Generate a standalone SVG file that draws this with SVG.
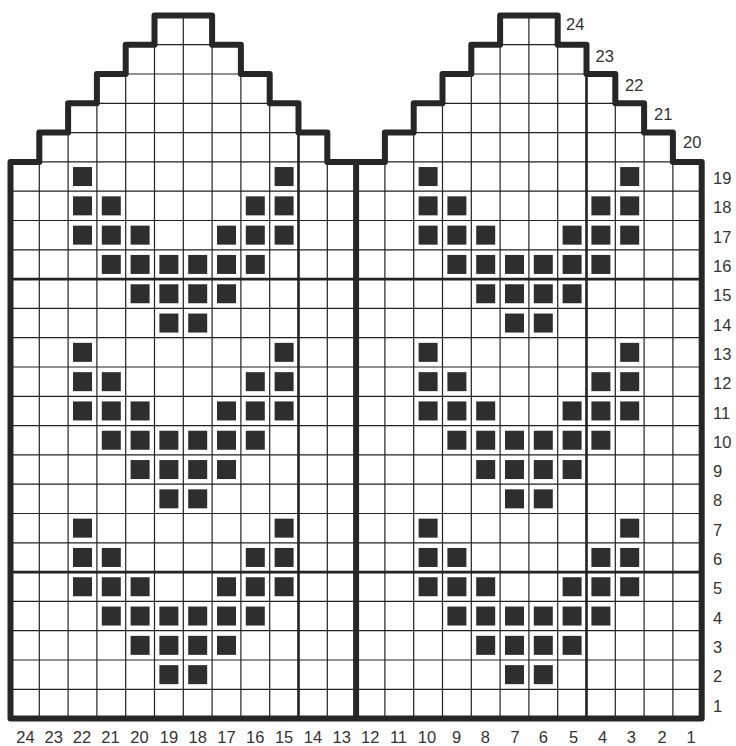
<svg xmlns="http://www.w3.org/2000/svg" xmlns:xlink="http://www.w3.org/1999/xlink" width="736" height="746" viewBox="0 0 736 746">
<style>
.thin{fill:none;stroke:#222;stroke-width:1.2}
.med{fill:none;stroke:#222;stroke-width:2.6}
.thick{fill:none;stroke:#262626;stroke-width:6;stroke-linejoin:round}
.sq rect{fill:#2e2e2e;width:19px;height:19px}
text{font-family:"Liberation Sans",Arial,sans-serif;font-size:16.5px;fill:#333}
.b{text-anchor:middle}
</style>
<defs>
<g id="motif" class="sq">
<rect x="62.5" y="5.15" width="19" height="19"/><rect x="264.1" y="5.15" width="19" height="19"/>
<rect x="62.5" y="34.45" width="19" height="19"/><rect x="91.3" y="34.45" width="19" height="19"/><rect x="235.3" y="34.45" width="19" height="19"/><rect x="264.1" y="34.45" width="19" height="19"/>
<rect x="62.5" y="63.75" width="19" height="19"/><rect x="91.3" y="63.75" width="19" height="19"/><rect x="120.1" y="63.75" width="19" height="19"/><rect x="206.5" y="63.75" width="19" height="19"/><rect x="235.3" y="63.75" width="19" height="19"/><rect x="264.1" y="63.75" width="19" height="19"/>
<rect x="91.3" y="93.05" width="19" height="19"/><rect x="120.1" y="93.05" width="19" height="19"/><rect x="148.9" y="93.05" width="19" height="19"/><rect x="177.7" y="93.05" width="19" height="19"/><rect x="206.5" y="93.05" width="19" height="19"/><rect x="235.3" y="93.05" width="19" height="19"/>
<rect x="120.1" y="122.35" width="19" height="19"/><rect x="148.9" y="122.35" width="19" height="19"/><rect x="177.7" y="122.35" width="19" height="19"/><rect x="206.5" y="122.35" width="19" height="19"/>
<rect x="148.9" y="151.65" width="19" height="19"/><rect x="177.7" y="151.65" width="19" height="19"/>
</g>
</defs>
<rect width="736" height="746" fill="#fff"/>
<g id="grid">
<path class="thin" d="M10.5 689.3H701.7M10.5 660H701.7M10.5 630.7H701.7M10.5 601.4H701.7M10.5 542.8H701.7M10.5 513.5H701.7M10.5 484.2H701.7M10.5 454.9H701.7M10.5 425.6H701.7M10.5 396.3H701.7M10.5 367H701.7M10.5 337.7H701.7M10.5 308.4H701.7M10.5 249.8H701.7M10.5 220.5H701.7M10.5 191.2H701.7
M39.3 161.9H327.3M384.9 161.9H672.9M68.1 132.6H298.5M413.7 132.6H644.1M96.9 103.3H269.7M442.5 103.3H615.3M125.7 74H240.9M471.3 74H586.5M154.5 44.7H212.1M500.1 44.7H557.7
M39.3 718.6V161.9M68.1 718.6V132.6M96.9 718.6V103.3M125.7 718.6V74M154.5 718.6V44.7M183.3 718.6V15.4M212.1 718.6V44.7M240.9 718.6V74M269.7 718.6V103.3M327.3 718.6V161.9
M384.9 718.6V161.9M413.7 718.6V132.6M442.5 718.6V103.3M471.3 718.6V74M500.1 718.6V44.7M528.9 718.6V15.4M557.7 718.6V44.7M615.3 718.6V103.3M644.1 718.6V132.6M672.9 718.6V161.9"/>
<path class="med" d="M10.5 572.1H701.7M10.5 279.1H701.7M298.5 718.6V132.6M586.5 718.6V74"/>
</g>
<g id="motifs">
<use xlink:href="#motif" href="#motif" transform="translate(10.5,513.5)"/>
<use xlink:href="#motif" href="#motif" transform="translate(10.5,337.7)"/>
<use xlink:href="#motif" href="#motif" transform="translate(10.5,161.9)"/>
<use xlink:href="#motif" href="#motif" transform="translate(356.1,513.5)"/>
<use xlink:href="#motif" href="#motif" transform="translate(356.1,337.7)"/>
<use xlink:href="#motif" href="#motif" transform="translate(356.1,161.9)"/>
</g>
<g id="outline">
<path class="thick" d="M10.5 718.6V161.9H39.3V132.6H68.1V103.3H96.9V74H125.7V44.7H154.5V15.4H212.1V44.7H240.9V74H269.7V103.3H298.5V132.6H327.3V161.9H384.9V132.6H413.7V103.3H442.5V74H471.3V44.7H500.1V15.4H557.7V44.7H586.5V74H615.3V103.3H644.1V132.6H672.9V161.9H701.7V718.6Z"/>
<path class="thick" d="M356.1 718.6V161.9"/>
</g>
<g id="col-labels" class="b">
<text class="b" x="25.5" y="743">24</text>
<text class="b" x="53.7" y="743">23</text>
<text class="b" x="82" y="743">22</text>
<text class="b" x="110.5" y="743">21</text>
<text class="b" x="139.5" y="743">20</text>
<text class="b" x="168.9" y="743">19</text>
<text class="b" x="197.7" y="743">18</text>
<text class="b" x="226.5" y="743">17</text>
<text class="b" x="255.3" y="743">16</text>
<text class="b" x="284.1" y="743">15</text>
<text class="b" x="312.9" y="743">14</text>
<text class="b" x="341.7" y="743">13</text>
<text class="b" x="370.2" y="743">12</text>
<text class="b" x="398.5" y="743">11</text>
<text class="b" x="427" y="743">10</text>
<text class="b" x="456.7" y="743">9</text>
<text class="b" x="485.3" y="743">8</text>
<text class="b" x="515" y="743">7</text>
<text class="b" x="543.3" y="743">6</text>
<text class="b" x="573.5" y="743">5</text>
<text class="b" x="602.5" y="743">4</text>
<text class="b" x="631.3" y="743">3</text>
<text class="b" x="662" y="743">2</text>
<text class="b" x="691" y="743">1</text>
</g>
<g id="row-labels">
<text x="713" y="711.5">1</text>
<text x="713" y="682.2">2</text>
<text x="713" y="652.9">3</text>
<text x="713" y="623.6">4</text>
<text x="713" y="594.3">5</text>
<text x="713" y="565">6</text>
<text x="713" y="535.7">7</text>
<text x="713" y="506.4">8</text>
<text x="713" y="477.1">9</text>
<text x="713" y="447.8">10</text>
<text x="713" y="418.5">11</text>
<text x="713" y="389.2">12</text>
<text x="713" y="359.9">13</text>
<text x="713" y="330.6">14</text>
<text x="713" y="301.3">15</text>
<text x="713" y="272">16</text>
<text x="713" y="242.7">17</text>
<text x="713" y="213.4">18</text>
<text x="713" y="184.3">19</text>
<text x="683" y="147.5">20</text>
<text x="654" y="119.5">21</text>
<text x="625" y="91">22</text>
<text x="595.5" y="61.5">23</text>
<text x="566" y="30">24</text>
</g>
</svg>
